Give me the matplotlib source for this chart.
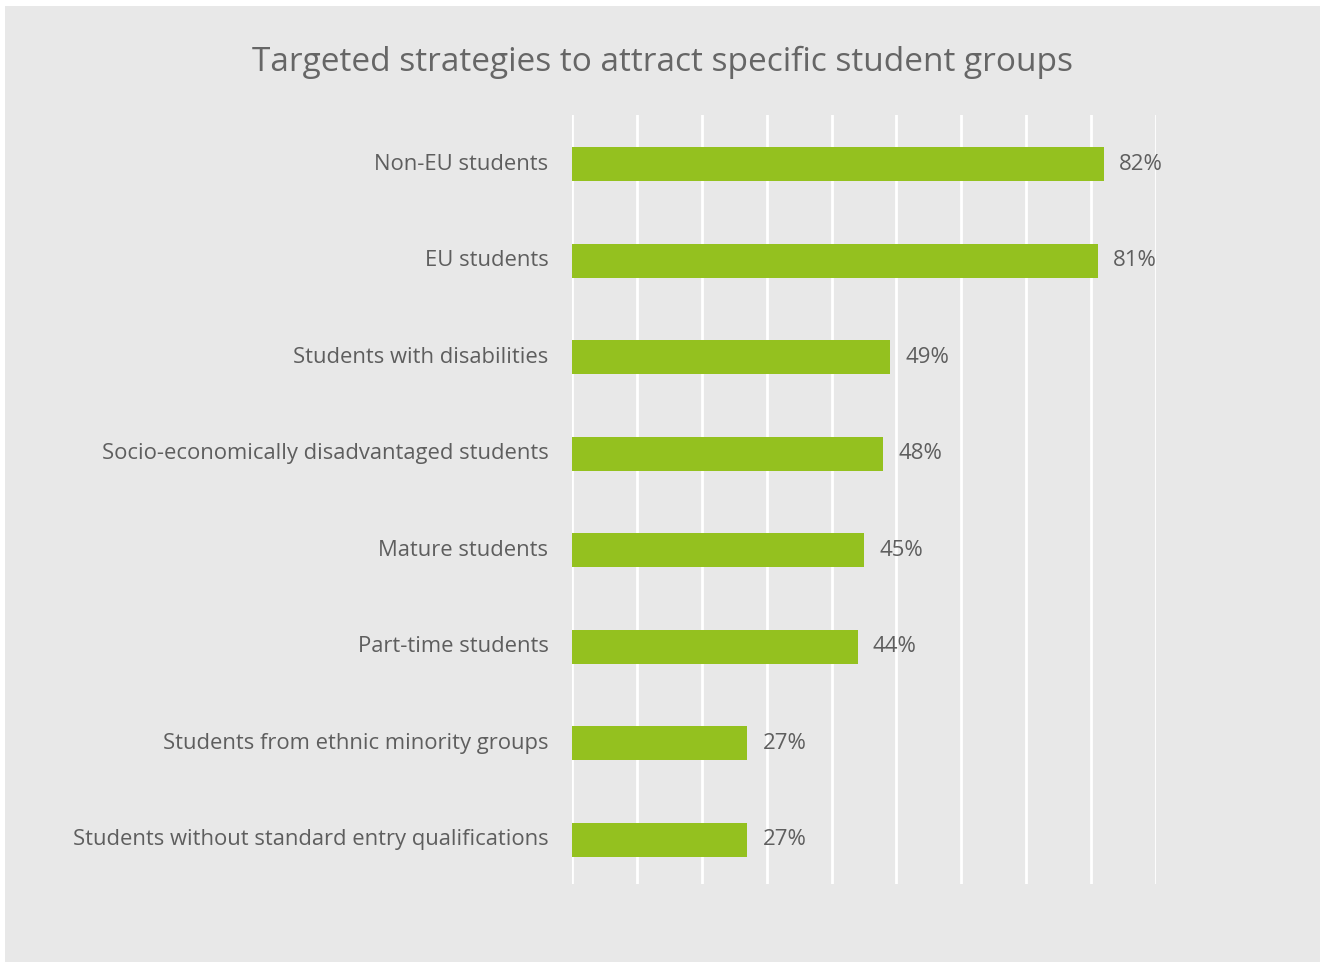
import matplotlib
matplotlib.use("Agg")
import matplotlib.pyplot as plt
from matplotlib.patches import Rectangle

plt.rcParams['font.family'] = ['Open Sans', 'DejaVu Sans']

categories = [
    "Non-EU students",
    "EU students",
    "Students with disabilities",
    "Socio-economically disadvantaged students",
    "Mature students",
    "Part-time students",
    "Students from ethnic minority groups",
    "Students without standard entry qualifications",
]
values = [82, 81, 49, 48, 45, 44, 27, 27]
grid_ticks = [0, 10, 20, 30, 40, 50, 60, 70, 80, 90]

panel_color = "#e8e8e8"
bar_color = "#94c11f"
text_color = "#5e5e5e"

fig = plt.figure(figsize=(13.22, 9.63), dpi=100)
fig.patch.set_facecolor("white")
# grey panel behind everything, leaving a thin white frame
fig.patches.append(Rectangle((5 / 1322, 1 / 963), 1315 / 1322, 956 / 963,
                             transform=fig.transFigure, facecolor=panel_color,
                             edgecolor="none", zorder=-10))

ax = fig.add_axes([572 / 1322, 79 / 963, 584 / 1322, 769 / 963])
ax.set_facecolor("none")

y = list(range(len(categories)))
ax.barh(y, values, height=0.35, color=bar_color, zorder=3)

ax.set_xlim(0, 90)
ax.set_ylim(7.46, -0.51)
for t in grid_ticks:
    ax.axvline(t, color="white", lw=2, zorder=1)

for yi, v in zip(y, values):
    ax.annotate(f"{v}%", (v, yi), xytext=(11, 0), textcoords="offset points",
                va="center", ha="left", fontsize=16, color=text_color)

for yi, name in zip(y, categories):
    ax.annotate(name, (0, yi), xytext=(-17, 0), textcoords="offset points",
                va="center", ha="right", fontsize=15.8, color=text_color)

ax.set_xticks([])
ax.set_yticks([])
for s in ax.spines.values():
    s.set_visible(False)

fig.text(662 / 1322, 1 - 62 / 963, "Targeted strategies to attract specific student groups",
         ha="center", va="center", fontsize=24, color="#666666")

fig.savefig("out.png", dpi=100)
